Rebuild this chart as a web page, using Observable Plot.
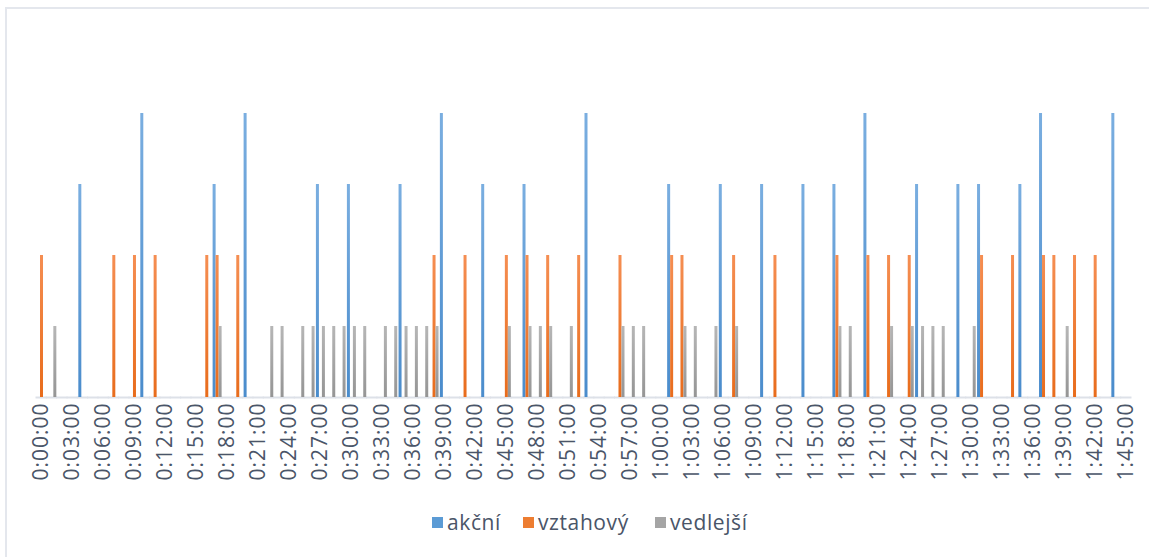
<!DOCTYPE html>
<html>
<head>
<meta charset="utf-8">
<script src="https://cdn.jsdelivr.net/npm/d3@7"></script>
<script src="https://cdn.jsdelivr.net/npm/@observablehq/plot@0.6"></script>
<style>
  body { margin: 0; background: #fff; font-family: "Open Sans", sans-serif; }
  #wrap { position: relative; width: 1149px; height: 557px; overflow: hidden; background: #fff; }
  #border { position: absolute; left: 5px; top: 7px; width: 1160px; height: 570px; border: 2px solid #e4e7ed; box-sizing: border-box; }
  #chart { position: absolute; left: 0; top: 0; }
  #chart svg g[aria-label="fx-axis tick label"] text { letter-spacing: 1px; }
  #legend { position: absolute; top: 508px; left: 0; width: 1149px; height: 30px; font-size: 21px; letter-spacing: 0.6px; color: #4a5568; }
  .item { position: absolute; top: 0; display: flex; align-items: center; gap: 4px; white-space: nowrap; }
  .sw { width: 11px; height: 11px; display: inline-block; }
</style>
</head>
<body>
<div id="wrap">
  <div id="border"></div>
  <div id="chart"></div>
  <div id="legend"></div>
</div>
<script>
// ---- data ----
const seriesNames = ["akční", "vztahový", "vedlejší"];
const seriesColors = ["#5b9bd5", "#ed7d31", "#a5a5a5"];

const akcniTimes = ["0:04:00","0:10:00","0:17:00","0:20:00","0:27:00","0:30:00","0:35:00","0:39:00","0:43:00","0:47:00","0:53:00","1:01:00","1:06:00","1:10:00","1:14:00","1:17:00","1:20:00","1:25:00","1:29:00","1:31:00","1:35:00","1:37:00","1:44:00"];
const akcniValues = [3,4,3,4,3,3,3,4,3,3,4,3,3,3,3,3,4,3,3,3,3,4,4];

const vztahovyTimes = ["0:00:00","0:07:00","0:09:00","0:11:00","0:16:00","0:17:00","0:19:00","0:38:00","0:41:00","0:45:00","0:47:00","0:49:00","0:52:00","0:56:00","1:01:00","1:02:00","1:07:00","1:11:00","1:17:00","1:20:00","1:22:00","1:24:00","1:31:00","1:34:00","1:37:00","1:38:00","1:40:00","1:42:00"];
const vztahovyValues = [2,2,2,2,2,2,2,2,2,2,2,2,2,2,2,2,2,2,2,2,2,2,2,2,2,2,2,2];

const vedlejsiTimes = ["0:01:00","0:17:00","0:22:00","0:23:00","0:25:00","0:26:00","0:27:00","0:28:00","0:29:00","0:30:00","0:31:00","0:33:00","0:34:00","0:35:00","0:36:00","0:37:00","0:38:00","0:45:00","0:47:00","0:48:00","0:49:00","0:51:00","0:56:00","0:57:00","0:58:00","1:02:00","1:03:00","1:05:00","1:07:00","1:17:00","1:18:00","1:22:00","1:24:00","1:25:00","1:26:00","1:27:00","1:30:00","1:39:00"];
const vedlejsiValues = [1,1,1,1,1,1,1,1,1,1,1,1,1,1,1,1,1,1,1,1,1,1,1,1,1,1,1,1,1,1,1,1,1,1,1,1,1,1];

const tickLabels = ["0:00:00","0:03:00","0:06:00","0:09:00","0:12:00","0:15:00","0:18:00","0:21:00","0:24:00","0:27:00","0:30:00","0:33:00","0:36:00","0:39:00","0:42:00","0:45:00","0:48:00","0:51:00","0:54:00","0:57:00","1:00:00","1:03:00","1:06:00","1:09:00","1:12:00","1:15:00","1:18:00","1:21:00","1:24:00","1:27:00","1:30:00","1:33:00","1:36:00","1:39:00","1:42:00","1:45:00"];

// category axis: one category per minute, 0:00:00 .. 1:45:00
const fmtMin = m => `${Math.floor(m / 60)}:${String(m % 60).padStart(2, "0")}:00`;
const categories = d3.range(0, 106).map(fmtMin);

const toRows = (name, times, values) => times.map((t, i) => ({time: t, series: name, value: values[i]}));
const rowsA = toRows(seriesNames[0], akcniTimes, akcniValues);
const rowsB = toRows(seriesNames[1], vztahovyTimes, vztahovyValues);
const rowsC = toRows(seriesNames[2], vedlejsiTimes, vedlejsiValues);

const tickSet = new Set(tickLabels);

const chart = Plot.plot({
  width: 1149,
  height: 490,
  marginLeft: 36,
  marginRight: 18,
  marginTop: 42,
  marginBottom: 93,
  style: {fontFamily: "Open Sans, sans-serif", fontSize: "21px", color: "#4a5568", background: "transparent", overflow: "visible"},
  fx: {domain: categories, padding: 0, label: null},
  x: {domain: seriesNames, padding: 0, axis: null},
  y: {domain: [0, 5], axis: null},
  marks: [
    Plot.ruleY(categories, {fx: d => d, y: () => 0, stroke: "#dde1e8", strokeWidth: 2, insetLeft: -0.5, insetRight: -0.5}),
    Plot.barY(rowsA, {fx: "time", x: "series", y: "value", fill: "url(#gBlue)"}),
    Plot.barY(rowsB, {fx: "time", x: "series", y: "value", fill: "url(#gOrange)"}),
    Plot.barY(rowsC, {fx: "time", x: "series", y: "value", fill: "url(#gGray)"}),
    Plot.axisFx({anchor: "bottom", tickSize: 0, tickPadding: 5, tickRotate: -90, label: null,
                 tickFormat: d => tickSet.has(d) ? d : "", fontSize: 21})
  ]
});

const defs = d3.select(chart).insert("defs", ":first-child");
const grads = [["gBlue", "#7aaee0", "#4a8ccc"], ["gOrange", "#f58e52", "#e86c1c"], ["gGray", "#b6b6b6", "#959595"]];
for (const [id, c0, c1] of grads) {
  const g = defs.append("linearGradient").attr("id", id).attr("x1", 0).attr("y1", 0).attr("x2", 0).attr("y2", 1);
  g.append("stop").attr("offset", "0%").attr("stop-color", c0);
  g.append("stop").attr("offset", "100%").attr("stop-color", c1);
}
document.getElementById("chart").appendChild(chart);

const legendLefts = [432, 523, 655];
const legend = d3.select("#legend");
seriesNames.forEach((n, i) => {
  const it = legend.append("div").attr("class", "item").style("left", legendLefts[i] + "px");
  it.append("span").attr("class", "sw").style("background", seriesColors[i]);
  it.append("span").text(n);
});
</script>
</body>
</html>
